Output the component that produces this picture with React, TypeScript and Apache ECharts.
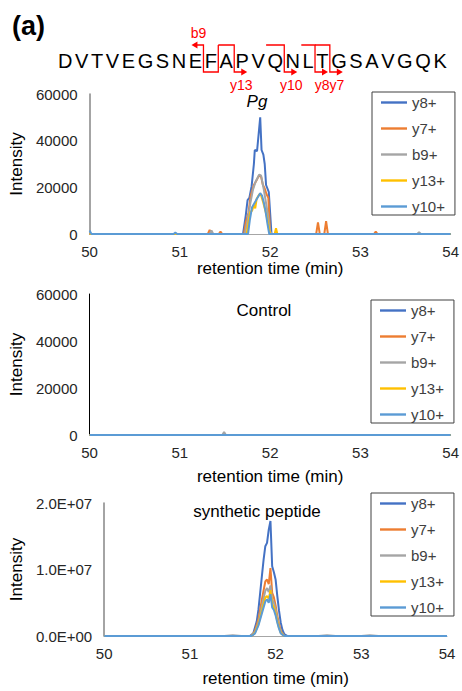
import React, { useEffect, useRef } from 'react';
import * as echarts from 'echarts';

// ---------- data ----------
const ION_NAMES = ['y8+', 'y7+', 'b9+', 'y13+', 'y10+'];
const ION_COLORS = ['#4472C4', '#ED7D31', '#A5A5A5', '#FFC000', '#5B9BD5'];
const PANEL_TITLES = ['Pg', 'Control', 'synthetic peptide'];
const SEQUENCE = 'DVTVEGSNEFAPVQNLTGSAVGQK';
const B_FRAGMENTS = [{ label: 'b9', n: 9 }];
const Y_FRAGMENTS = [
  { label: 'y13', n: 13 },
  { label: 'y10', n: 10 },
  { label: 'y8', n: 8 },
  { label: 'y7', n: 7 },
];
const X_MIN = 50;
const X_MAX = 54;
const X_INTERVAL = 1;
const Y_MAX_PG = 60000;
const Y_INTERVAL_PG = 20000;
const Y_MAX_SYN = 2e7;
const Y_INTERVAL_SYN = 1e7;

// Pg sample
const PG_Y8 = [[50, 0], [51.7, 0], [51.73, 8000], [51.75, 14500], [51.77, 15500], [51.795, 20500], [51.82, 30000], [51.83, 36000], [51.855, 35500], [51.89, 50000], [51.905, 36000], [51.925, 34000], [51.94, 30000], [51.955, 21000], [51.985, 18000], [52.015, 0], [54, 0]];
const PG_Y7 = [[50, 0], [51.31, 0], [51.33, 1700], [51.35, 0], [51.43, 0], [51.45, 1000], [51.47, 0], [51.71, 0], [51.73, 5000], [51.76, 9000], [51.785, 16500], [51.82, 21000], [51.85, 23000], [51.875, 25000], [51.9, 24500], [51.92, 21000], [51.94, 19500], [51.96, 17000], [51.98, 15500], [51.99, 8000], [52.0, 0], [52.51, 0], [52.53, 5000], [52.55, 0], [52.6, 0], [52.62, 5500], [52.64, 0], [53.15, 0], [53.17, 1000], [53.19, 0], [54, 0]];
const PG_B9 = [[50, 0], [51.33, 0], [51.35, 1500], [51.37, 0], [51.72, 0], [51.75, 6000], [51.78, 13000], [51.81, 19000], [51.84, 22500], [51.88, 25500], [51.9, 25000], [51.93, 19000], [51.96, 12000], [51.98, 7000], [52.0, 1000], [52.02, 0], [53.63, 0], [53.65, 800], [53.67, 0], [54, 0]];
const PG_Y13 = [[50, 0], [51.74, 0], [51.76, 5000], [51.78, 9500], [51.8, 10000], [51.82, 12500], [51.835, 11000], [51.85, 15000], [51.88, 17000], [51.9, 16500], [51.92, 14000], [51.94, 11000], [51.96, 8000], [51.98, 4000], [52.0, 0], [52.05, 0], [52.065, 2500], [52.08, 0], [54, 0]];
const PG_Y10 = [[50, 1500], [50.02, 0], [50.93, 0], [50.95, 600], [50.97, 0], [51.755, 0], [51.775, 6000], [51.8, 11500], [51.83, 13500], [51.86, 15500], [51.89, 17500], [51.91, 16500], [51.93, 13500], [51.95, 9500], [51.97, 4500], [51.99, 0], [54, 0]];

// Control
const CTRL_Y8 = [[50, 0], [54, 0]];
const CTRL_Y7 = [[50, 0], [54, 0]];
const CTRL_B9 = [[50, 0], [51.47, 0], [51.49, 1300], [51.51, 0], [54, 0]];
const CTRL_Y13 = [[50, 0], [54, 0]];
const CTRL_Y10 = [[50, 0], [54, 0]];

// synthetic peptide
const SYN_Y8 = [[50, 0], [51.7, 0], [51.74, 0.4e6], [51.78, 2.2e6], [51.8, 4.0e6], [51.82, 6.5e6], [51.84, 9.0e6], [51.86, 11.5e6], [51.88, 13.5e6], [51.9, 14.0e6], [51.92, 16.0e6], [51.94, 17.3e6], [51.96, 10.5e6], [51.98, 9.6e6], [52.0, 8.5e6], [52.02, 6.0e6], [52.04, 3.8e6], [52.06, 2.0e6], [52.08, 0.9e6], [52.1, 0.3e6], [52.14, 0], [54, 0]];
const SYN_Y7 = [[50, 0], [51.72, 0], [51.76, 0.8e6], [51.8, 2.5e6], [51.84, 5.5e6], [51.88, 8.2e6], [51.9, 8.5e6], [51.92, 7.8e6], [51.94, 10.2e6], [51.96, 6.5e6], [51.98, 5.8e6], [52.0, 4.6e6], [52.02, 3.0e6], [52.04, 1.8e6], [52.06, 0.8e6], [52.1, 0], [54, 0]];
const SYN_B9 = [[50, 0], [51.4, 0], [51.5, 0.12e6], [51.6, 0], [51.72, 0], [51.76, 0.6e6], [51.8, 2.0e6], [51.84, 4.5e6], [51.88, 6.8e6], [51.9, 7.2e6], [51.92, 6.6e6], [51.94, 7.6e6], [51.96, 5.5e6], [51.98, 5.0e6], [52.0, 4.0e6], [52.02, 2.6e6], [52.04, 1.5e6], [52.06, 0.6e6], [52.1, 0], [52.5, 0], [52.6, 0.1e6], [52.7, 0], [53.0, 0], [53.1, 0.1e6], [53.2, 0], [54, 0]];
const SYN_Y13 = [[50, 0], [51.72, 0], [51.76, 0.5e6], [51.8, 1.8e6], [51.84, 3.8e6], [51.88, 5.8e6], [51.9, 6.0e6], [51.92, 5.6e6], [51.94, 6.9e6], [51.96, 4.8e6], [51.98, 4.3e6], [52.0, 3.4e6], [52.02, 2.2e6], [52.04, 1.2e6], [52.06, 0.5e6], [52.1, 0], [54, 0]];
const SYN_Y10 = [[50, 0], [51.72, 0], [51.76, 0.4e6], [51.8, 1.6e6], [51.84, 3.4e6], [51.88, 5.2e6], [51.9, 5.5e6], [51.92, 5.0e6], [51.94, 6.3e6], [51.96, 4.3e6], [51.98, 3.9e6], [52.0, 3.1e6], [52.02, 2.0e6], [52.04, 1.1e6], [52.06, 0.4e6], [52.1, 0], [54, 0]];

const PANEL_DATA = [
  [PG_Y8, PG_Y7, PG_B9, PG_Y13, PG_Y10],
  [CTRL_Y8, CTRL_Y7, CTRL_B9, CTRL_Y13, CTRL_Y10],
  [SYN_Y8, SYN_Y7, SYN_B9, SYN_Y13, SYN_Y10],
];

// ---------- layout / style ----------
const FONT = '"Liberation Sans", Arial, Helvetica, sans-serif';
const LABEL_COLOR = '#262626';
const GRIDS = [
  { left: 89, top: 94, width: 363, height: 140 },
  { left: 89, top: 294, width: 364, height: 141 },
  { left: 96, top: 503, width: 351, height: 133 },
];
const LEGEND_POS = [
  { left: 372, top: 92 },
  { left: 371, top: 300 },
  { left: 371, top: 493 },
];
const TITLE_POS = [
  { x: 257, y: 101 },
  { x: 264, y: 310 },
  { x: 257, y: 511 },
];
const X_NAME_GAP = [26, 33, 34];
const Y_NAME_GAP = [62, 62, 69];
const Y_AXIS_COLOR = ['#868686', '#000000', '#868686'];

const GLYPH_W: Record<string, number> = {
  D: 0.722, V: 0.667, T: 0.611, E: 0.667, G: 0.778, S: 0.667, N: 0.722,
  F: 0.611, A: 0.667, P: 0.667, Q: 0.778, L: 0.556, K: 0.667,
};
const SEQ_FONT = 20;
const SEQ_SPACING = 2.6;
const SEQ_X0 = 58;
const SEQ_Y = 61;
const MARK_TOP = 45;
const MARK_BOT = 72;
const RED = '#FF0000';
const LEGEND_LINE_ICON = 'path://M0 0H26V2.4H0Z';

function sciLabel(v: number): string {
  if (v === 0) return '0.0E+00';
  const e = Math.floor(Math.log10(Math.abs(v)));
  const m = v / Math.pow(10, e);
  return m.toFixed(1) + 'E+' + String(e).padStart(2, '0');
}

function buildGraphics() {
  const els: any[] = [];
  els.push({
    type: 'text', x: 12, y: 26,
    style: { text: '(a)', fontSize: 27, fontWeight: 'bold', fontFamily: FONT, fill: '#000', align: 'left', verticalAlign: 'middle' },
  });
  const starts: number[] = [];
  let x = SEQ_X0;
  for (const ch of SEQUENCE) {
    starts.push(x);
    els.push({
      type: 'text', x, y: SEQ_Y,
      style: { text: ch, fontSize: SEQ_FONT, fontFamily: FONT, fill: '#000', align: 'left', verticalAlign: 'middle' },
    });
    x += (GLYPH_W[ch] ?? 0.667) * SEQ_FONT + SEQ_SPACING;
  }
  const B = (k: number) => starts[k] - SEQ_SPACING / 2;
  const line = (pts: number[][]) => ({ type: 'polyline', shape: { points: pts }, style: { stroke: RED, lineWidth: 1.3, fill: null } });
  const arrowR = (xe: number, y: number) => ({ type: 'polygon', shape: { points: [[xe, y], [xe - 6, y - 3.5], [xe - 6, y + 3.5]] }, style: { fill: RED } });
  const arrowL = (xe: number, y: number) => ({ type: 'polygon', shape: { points: [[xe, y], [xe + 6, y - 3.5], [xe + 6, y + 3.5]] }, style: { fill: RED } });
  const redText = (t: string, tx: number, ty: number) => ({
    type: 'text', x: tx, y: ty,
    style: { text: t, fontSize: 14, fontFamily: FONT, fill: RED, align: 'center', verticalAlign: 'middle' },
  });
  for (const f of B_FRAGMENTS) {
    const c = f.n;
    const xb = B(c);
    const xn = B(c + 1);
    els.push(line([[xb - 8, MARK_TOP], [xb, MARK_TOP], [xb, MARK_BOT], [xn, MARK_BOT], [xn, MARK_TOP]]));
    els.push(arrowL(xb - 12, MARK_TOP));
    els.push(redText(f.label, xb - 5, 33));
  }
  for (const f of Y_FRAGMENTS) {
    const c = SEQUENCE.length - f.n;
    const xb = B(c);
    const xp = B(c - 1);
    els.push(line([[xp, MARK_TOP], [xb, MARK_TOP], [xb, MARK_BOT], [xb + 8, MARK_BOT]]));
    els.push(arrowR(xb + 13, MARK_BOT));
    els.push(redText(f.label, xb + 7, 85));
  }
  PANEL_TITLES.forEach((t, i) => {
    els.push({
      type: 'text', x: TITLE_POS[i].x, y: TITLE_POS[i].y,
      style: { text: t, fontSize: 17, fontStyle: i === 0 ? 'italic' : 'normal', fontFamily: FONT, fill: '#000', align: 'center', verticalAlign: 'middle' },
    });
  });
  return els;
}

function buildOption() {
  const grid = GRIDS.map((g) => ({ ...g, containLabel: false }));
  const xAxis = GRIDS.map((_, i) => ({
    type: 'value', gridIndex: i, min: X_MIN, max: X_MAX, interval: X_INTERVAL,
    axisLine: { show: true, onZero: false, lineStyle: { color: '#A6A6A6', width: 1 } },
    axisTick: { show: false }, splitLine: { show: false },
    axisLabel: { color: LABEL_COLOR, fontSize: 15, fontFamily: FONT, margin: 10 },
    name: 'retention time (min)', nameLocation: 'middle', nameGap: X_NAME_GAP[i],
    nameTextStyle: { color: '#000', fontSize: 17, fontFamily: FONT },
  }));
  const yAxis = GRIDS.map((_, i) => ({
    type: 'value', gridIndex: i, min: 0,
    max: i === 2 ? Y_MAX_SYN : Y_MAX_PG,
    interval: i === 2 ? Y_INTERVAL_SYN : Y_INTERVAL_PG,
    axisLine: { show: true, lineStyle: { color: Y_AXIS_COLOR[i], width: i === 1 ? 1 : 1.5 } },
    axisTick: { show: false }, splitLine: { show: false },
    axisLabel: {
      color: LABEL_COLOR, fontSize: 15, fontFamily: FONT, margin: 12,
      formatter: i === 2 ? (v: number) => sciLabel(v) : (v: number) => String(v),
    },
    name: 'Intensity', nameLocation: 'middle', nameGap: Y_NAME_GAP[i],
    nameTextStyle: { color: '#000', fontSize: 17, fontFamily: FONT },
  }));
  const series: any[] = [];
  PANEL_DATA.forEach((panel, g) => {
    panel.forEach((data, k) => {
      series.push({
        type: 'line', name: ION_NAMES[k], xAxisIndex: g, yAxisIndex: g,
        data, symbol: 'none', showSymbol: false,
        lineStyle: { width: 2, color: ION_COLORS[k] },
        itemStyle: { color: ION_COLORS[k] },
        emphasis: { disabled: true },
      });
    });
  });
  const legend = LEGEND_POS.map((p) => ({
    ...p, orient: 'vertical', data: ION_NAMES,
    icon: LEGEND_LINE_ICON, symbolKeepAspect: true,
    itemWidth: 26, itemHeight: 14, itemGap: 11,
    padding: [3, 10, 1, 9],
    borderColor: '#404040', borderWidth: 1, borderRadius: 0,
    textStyle: { color: '#404040', fontSize: 15, fontFamily: FONT },
    selectedMode: false,
  }));
  return {
    animation: false,
    backgroundColor: '#ffffff',
    grid, xAxis, yAxis, series, legend,
    graphic: buildGraphics(),
  };
}

export default function App() {
  const ref = useRef<HTMLDivElement>(null);
  useEffect(() => {
    if (!ref.current) return;
    const chart = echarts.init(ref.current, undefined, { renderer: 'svg' });
    chart.setOption(buildOption() as any);
    return () => chart.dispose();
  }, []);
  return <div ref={ref} style={{ position: 'absolute', left: 0, top: 0, width: 462, height: 691 }} />;
}
